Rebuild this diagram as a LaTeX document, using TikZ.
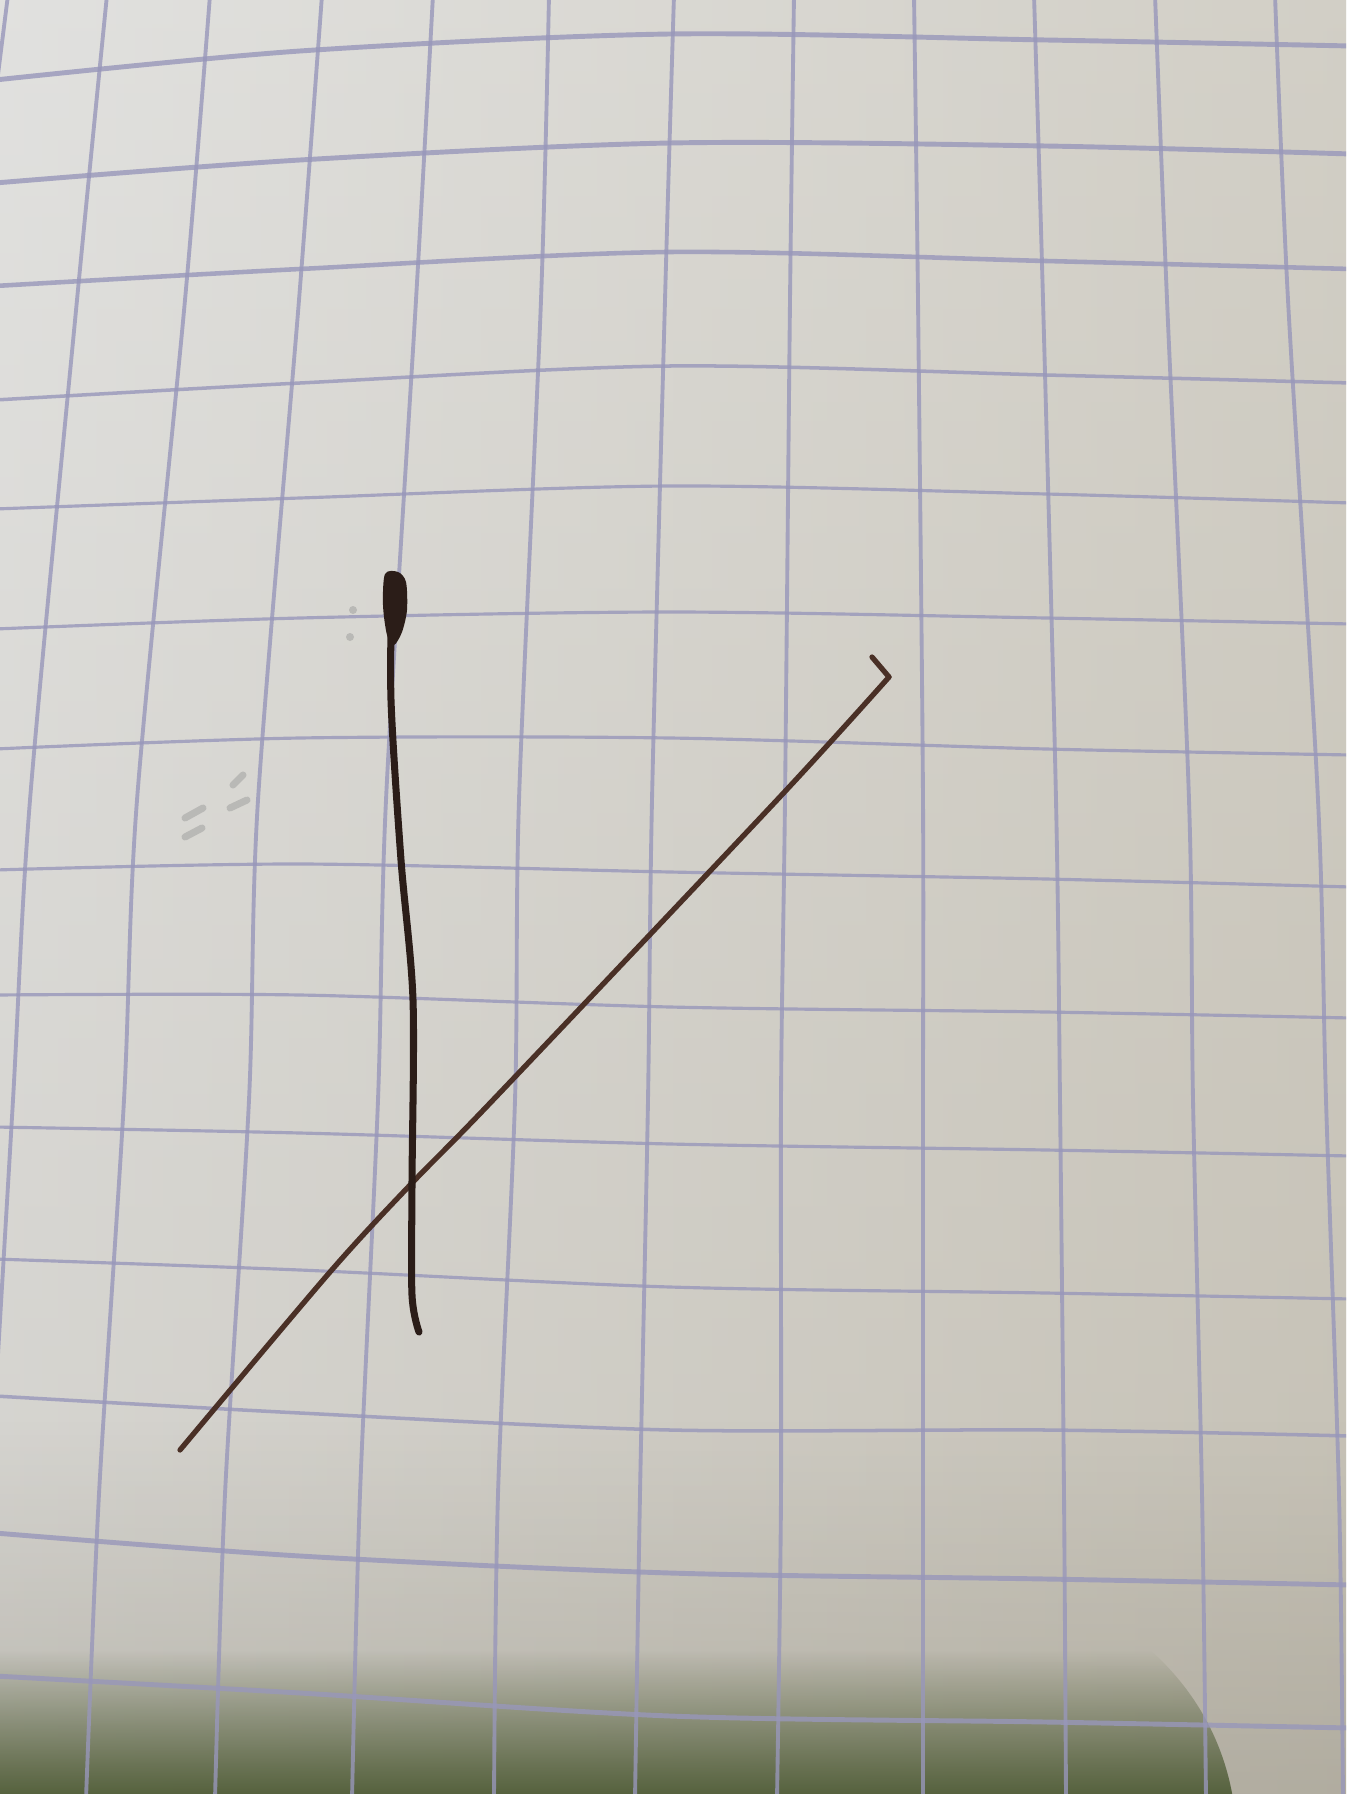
\documentclass[tikz,border=0pt]{standalone}
\usepackage{xcolor}
\usepackage{tikz}
\usetikzlibrary{fadings}
\definecolor{paperTop}{HTML}{D8D6CE}
\definecolor{paperLow}{HTML}{BBB6A8}
\definecolor{paperGlow}{HTML}{EAECF0}
\definecolor{paperGrey}{HTML}{CDC9BF}
\definecolor{paperDusk}{HTML}{8E8A7C}
\definecolor{shadowGreen}{HTML}{56623E}
\definecolor{gridLilac}{HTML}{9897BA}
\definecolor{inkDark}{HTML}{2B1D18}
\definecolor{inkBrown}{HTML}{4A3026}
\definecolor{pencilGrey}{HTML}{8C8C8C}

\begin{document}
\begin{tikzpicture}[
  x=0.1mm, y=-0.1mm,
  gridrule/.style={draw=gridLilac, line width=#1, opacity=0.8},
  gridrule/.default=1pt,
  inkstroke/.style={draw=#1, line cap=round, line join=round},
  pencilmark/.style={draw=pencilGrey, line width=2pt, line cap=round, opacity=0.4},
]
\useasboundingbox (0,0) rectangle (1346,1794);
\clip (0,0) rectangle (1346,1794);

% === PAPER ===
\shade[top color=paperTop, bottom color=paperLow] (0,0) rectangle (1346,1794);
\shade[left color=paperGlow, right color=paperGrey, opacity=0.5] (0,0) rectangle (1346,1794);

% Shadow along the bottom edge
\fill[paperDusk, opacity=0.35, path fading=north] (0,1420) rectangle (1346,1794);
\fill[shadowGreen, path fading=north]
  (0,1650) -- (1150,1650)
  .. controls (1195,1690) and (1222,1740) .. (1232,1794) -- (0,1794) -- cycle;

% === GRID ===
% vertical rules (x at y = 0, 300, 800, 1100, 1494, 1794)
\foreach \a/\b/\c/\d/\e/\f in {
  8/-30/-90/-110/-150/-170,
  107/77/30/13/-10/-25,
  210/185/137/124/99/86,
  322/299/258/249/225/215,
  433/416/386/378/360/352,
  549/541/519/515/498/494,
  674/665/652/648/640/635,
  794/790/785/781/781/777,
  914/918/923/923/923/923,
  1034/1043/1056/1060/1064/1066,
  1155/1167/1189/1193/1202/1206,
  1275/1288/1318/1326/1339/1343} {
  \draw[gridrule=1.1pt] plot[smooth] coordinates {(\a,-5) (\b,300) (\c,800) (\d,1100) (\e,1494) (\f,1799)};
}

% horizontal rules (y at x = 0, 300, 670, 1046, 1346)
\foreach \a/\b/\c/\d/\e/\w in {
  80/51/34/40/46/1.4pt,
  183/160/143/146/154/1.4pt,
  286/269/252/261/269/1.3pt,
  400/383/366/375/383/1pt,
  509/498/486/494/503/0.9pt,
  629/618/612/618/624/0.9pt,
  749/738/738/749/755/0.9pt,
  870/864/872/879/887/0.9pt,
  995/995/1007/1012/1018/0.9pt,
  1127/1133/1144/1150/1156/0.9pt,
  1259/1270/1287/1293/1299/0.9pt,
  1396/1413/1430/1430/1436/1pt,
  1533/1556/1573/1579/1585/1.4pt,
  1676/1693/1716/1722/1728/1.4pt} {
  \draw[gridrule=\w] plot[smooth] coordinates {(-5,\a) (300,\b) (670,\c) (1046,\d) (1351,\e)};
}

% === PENCIL MARKS ===
\draw[pencilmark] (233,785) -- (243,775);
\draw[pencilmark] (230,808) -- (247,800);
\draw[pencilmark] (185,818) -- (203,808);
\draw[pencilmark] (185,837) -- (202,828);
\fill[pencilGrey, opacity=0.4] (353,610) circle[radius=0.4mm];
\fill[pencilGrey, opacity=0.4] (350,637) circle[radius=0.4mm];

% === INK STROKES ===
\coordinate (stem-top) at (392,585);
\coordinate (stem-end) at (419,1332);
\coordinate (slash-hook) at (872,657);
\coordinate (slash-bend) at (889,677);
\coordinate (slash-end) at (180,1450);

% diagonal stroke with its small hook
\draw[inkstroke=inkBrown, line width=1.5pt] (slash-hook) -- (slash-bend);
\draw[inkstroke=inkBrown, line width=1.5pt] plot[smooth, tension=0.5] coordinates {
  (slash-bend) (777,800) (493,1100) (412,1183) (330,1272) (slash-end)};

% upright stroke, heavy blot where the pen started
\fill[inkDark] plot[smooth cycle] coordinates {
  (385,574) (398,572) (406,582) (407,610) (402,632) (394,645) (387,635) (383,605)};
\draw[inkstroke=inkDark, line width=2pt] plot[smooth] coordinates {
  (stem-top) (391,700) (401,860) (413,1000) (412,1183) (412,1295) (stem-end)};

\end{tikzpicture}
\end{document}
